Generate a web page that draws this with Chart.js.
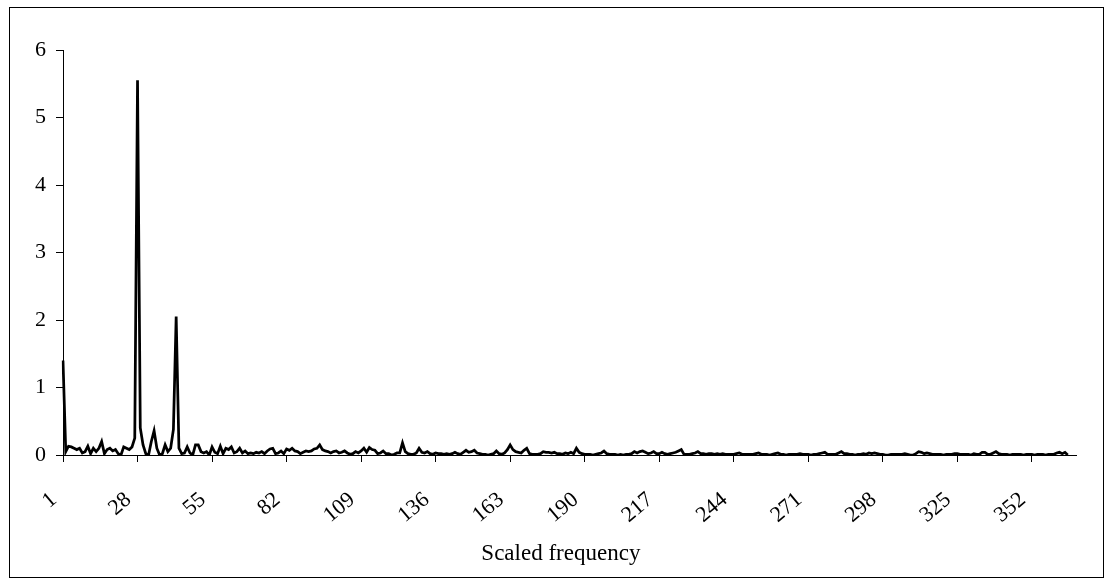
<!DOCTYPE html>
<html>
<head>
<meta charset="utf-8">
<script src="https://cdn.jsdelivr.net/npm/chart.js@4/dist/chart.umd.min.js"></script>
<style>
  html, body { margin: 0; padding: 0; background: #fff; }
  #wrap { position: relative; width: 1112px; height: 585px; }
</style>
</head>
<body>
<div id="wrap"><canvas id="spectrumChart"></canvas></div>
<script>
// Category axis runs 1..368, tick labels every 27 categories
const categoryCount = 368;
const categories = [];
for (let i = 1; i <= categoryCount; i++) categories.push(String(i));

const tickLabels = ['1', '28', '55', '82', '109', '136', '163', '190', '217', '244', '271', '298', '325', '352'];

// Values (365 points)
const values = [
    // 1 - 68
    1.40, 0.05, 0.13, 0.12, 0.10, 0.08, 0.10, 0.03, 0.05, 0.13,
    0.02, 0.10, 0.05, 0.10, 0.20, 0.02, 0.08, 0.10, 0.06, 0.08,
    0.02, 0.00, 0.12, 0.10, 0.08, 0.12, 0.25, 5.55, 0.40, 0.15,
    0.02, 0.00, 0.20, 0.36, 0.10, 0.00, 0.02, 0.15, 0.05, 0.10,
    0.38, 2.05, 0.10, 0.02, 0.03, 0.12, 0.03, 0.00, 0.15, 0.15,
    0.05, 0.03, 0.05, 0.00, 0.12, 0.04, 0.02, 0.13, 0.02, 0.10,
    0.08, 0.12, 0.03, 0.05, 0.10, 0.03, 0.06, 0.02,
    // 69 - 137
    0.03, 0.02, 0.04, 0.03, 0.05, 0.02, 0.06, 0.09, 0.10, 0.02,
    0.03, 0.06, 0.02, 0.09, 0.07, 0.10, 0.06, 0.05, 0.02, 0.04,
    0.06, 0.05, 0.06, 0.09, 0.10, 0.15, 0.08, 0.06, 0.05, 0.03,
    0.05, 0.06, 0.03, 0.04, 0.06, 0.03, 0.01, 0.02, 0.05, 0.03,
    0.06, 0.10, 0.04, 0.11, 0.08, 0.07, 0.02, 0.03, 0.06, 0.02,
    0.02, 0.00, 0.01, 0.03, 0.03, 0.18, 0.05, 0.02, 0.01, 0.01,
    0.03, 0.10, 0.04, 0.03, 0.05, 0.02, 0.01, 0.03, 0.02,
    // 138 - 210
    0.02, 0.01, 0.02, 0.01, 0.02, 0.04, 0.02, 0.01, 0.04, 0.07,
    0.04, 0.05, 0.07, 0.03, 0.02, 0.01, 0.01, 0.00, 0.01, 0.02,
    0.06, 0.02, 0.01, 0.03, 0.08, 0.15, 0.08, 0.05, 0.04, 0.03,
    0.07, 0.10, 0.02, 0.01, 0.01, 0.01, 0.02, 0.05, 0.04, 0.04,
    0.03, 0.04, 0.02, 0.02, 0.01, 0.03, 0.02, 0.04, 0.02, 0.10,
    0.04, 0.02, 0.01, 0.01, 0.01, 0.00, 0.01, 0.02, 0.03, 0.06,
    0.02, 0.01, 0.01, 0.01, 0.00, 0.01, 0.00, 0.01, 0.01, 0.02,
    0.05, 0.03, 0.05,
    // 211 - 279
    0.06, 0.04, 0.02, 0.03, 0.05, 0.02, 0.02, 0.04, 0.02, 0.01,
    0.02, 0.03, 0.04, 0.06, 0.08, 0.01, 0.01, 0.01, 0.02, 0.03,
    0.05, 0.02, 0.02, 0.01, 0.02, 0.02, 0.01, 0.02, 0.01, 0.02,
    0.01, 0.01, 0.01, 0.01, 0.02, 0.03, 0.01, 0.01, 0.01, 0.01,
    0.01, 0.02, 0.03, 0.01, 0.01, 0.01, 0.00, 0.01, 0.02, 0.03,
    0.01, 0.01, 0.00, 0.01, 0.01, 0.01, 0.01, 0.02, 0.01, 0.01,
    0.01, 0.00, 0.01, 0.01, 0.02, 0.03, 0.04, 0.01, 0.01,
    // 280 - 365
    0.01, 0.01, 0.03, 0.05, 0.02, 0.02, 0.01, 0.01, 0.00, 0.01,
    0.01, 0.02, 0.01, 0.03, 0.02, 0.03, 0.02, 0.01, 0.01, 0.00,
    0.00, 0.01, 0.01, 0.01, 0.01, 0.01, 0.02, 0.01, 0.00, 0.00,
    0.02, 0.05, 0.04, 0.02, 0.03, 0.02, 0.01, 0.01, 0.01, 0.01,
    0.00, 0.01, 0.01, 0.01, 0.02, 0.02, 0.01, 0.01, 0.01, 0.01,
    0.00, 0.02, 0.01, 0.01, 0.04, 0.04, 0.01, 0.01, 0.03, 0.05,
    0.02, 0.01, 0.01, 0.01, 0.00, 0.01, 0.01, 0.01, 0.01, 0.00,
    0.01, 0.01, 0.01, 0.00, 0.01, 0.01, 0.01, 0.00, 0.01, 0.01,
    0.01, 0.03, 0.04, 0.02, 0.04, 0.00
];

const serif = '"Liberation Serif", "Times New Roman", serif';

// White page with a thin frame round the whole chart
const framePlugin = {
    id: 'frame',
    beforeDraw(chart) {
        const ctx = chart.ctx;
        ctx.save();
        ctx.fillStyle = '#ffffff';
        ctx.fillRect(0, 0, chart.width, chart.height);
        ctx.restore();
    },
    afterDraw(chart) {
        const ctx = chart.ctx;
        ctx.save();
        ctx.strokeStyle = '#000000';
        ctx.lineWidth = 1;
        ctx.strokeRect(9.5, 7.5, 1094, 570);
        ctx.restore();
    }
};

document.addEventListener('DOMContentLoaded', function() {
    const ctx = document.getElementById('spectrumChart').getContext('2d');

    new Chart(ctx, {
        type: 'line',
        data: {
            labels: categories,
            datasets: [{
                data: values,
                borderColor: '#000000',
                borderWidth: 2.75,
                pointRadius: 0,
                tension: 0,
                fill: false
            }]
        },
        options: {
            responsive: true,
            maintainAspectRatio: false,
            animation: false,
            layout: {
                padding: { top: 50, right: 36, left: 0, bottom: 0 }
            },
            scales: {
                x: {
                    type: 'category',
                    offset: false,
                    afterBuildTicks: function(scale) {
                        scale.ticks = scale.ticks.filter(t => tickLabels.includes(categories[t.value]));
                    },
                    afterFit: function(scale) {
                        scale.height = 130;
                    },
                    grid: {
                        display: true,
                        drawOnChartArea: false,
                        drawTicks: true,
                        tickLength: 7,
                        color: '#000000',
                        lineWidth: 1,
                        offset: false
                    },
                    border: { display: true, color: '#000000', width: 1 },
                    ticks: {
                        autoSkip: false,
                        maxRotation: 40,
                        minRotation: 40,
                        padding: 25,
                        labelOffset: -9,
                        color: '#000000',
                        font: { family: serif, size: 22 }
                    },
                    title: {
                        display: true,
                        // trailing spaces nudge the centred title a little to the left
                        text: 'Scaled frequency\u00A0\u00A0\u00A0',
                        color: '#000000',
                        font: { family: serif, size: 23 },
                        padding: { top: 0, bottom: 17 }
                    }
                },
                y: {
                    min: 0,
                    max: 6,
                    afterFit: function(scale) {
                        scale.width = 63;
                    },
                    grid: {
                        display: true,
                        drawOnChartArea: false,
                        drawTicks: true,
                        tickLength: 7,
                        color: '#000000',
                        lineWidth: 1
                    },
                    border: { display: true, color: '#000000', width: 1 },
                    ticks: {
                        stepSize: 1,
                        padding: 10,
                        color: '#000000',
                        font: { family: serif, size: 22 }
                    }
                }
            },
            plugins: {
                legend: { display: false },
                tooltip: { enabled: false }
            }
        },
        plugins: [framePlugin]
    });
});
</script>
</body>
</html>
